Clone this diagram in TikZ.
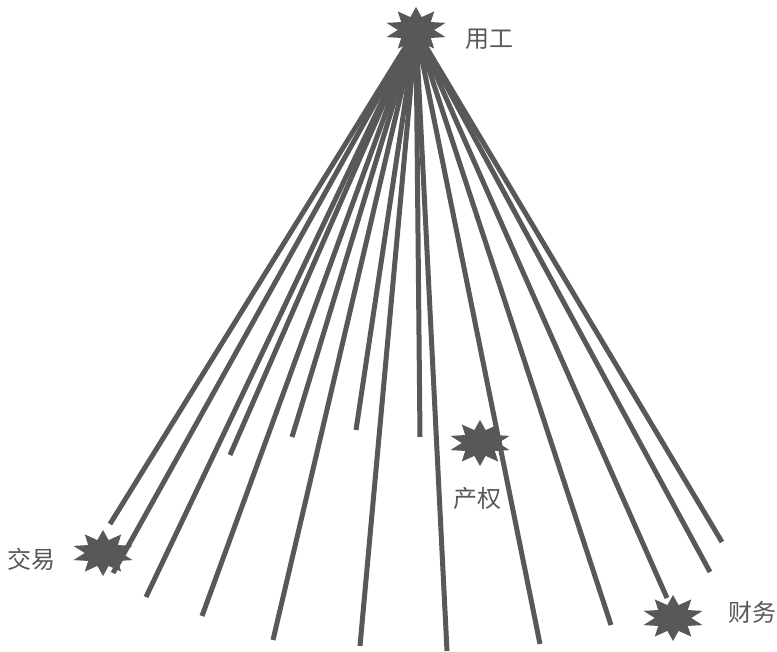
\documentclass[tikz,border=0pt]{standalone}
\usepackage{fontspec}
\newfontfamily\cjk{Noto Sans CJK SC}
\usetikzlibrary{shapes.geometric}
\definecolor{fangray}{RGB}{88,88,88}
\begin{document}
\begin{tikzpicture}[x=1pt,y=-1pt,
    burst/.style={star,star points=10,star point ratio=1.7,fill=fangray,
        draw=none,minimum size=46pt,inner sep=0pt,xscale=1.35},
    tag/.style={font=\cjk\fontsize{24}{24}\selectfont,text=fangray}]
    \useasboundingbox (0,0) rectangle (777,652);

    \node[burst] (yg) at (416,30) {};
    \node[burst] (cq) at (480,443) {};
    \node[burst] (jy) at (103,553) {};
    \node[burst] (cw) at (673,618) {};

    \node[tag] (ygl) at (489,39) {用工};
    \node[tag] (cql) at (477,498) {产权};
    \node[tag] (jyl) at (31,559) {交易};
    \node[tag] (cwl) at (752,612) {财务};

    \foreach \ex/\ey [count=\i] in {110/524,113/573,146/597,202/616,273/640,
        360/646,447/651,540/644,611/625,667/598,710/572,722/542,
        230/455,292/437,356/430,420/437} {
        \coordinate (end\i) at (\ex,\ey);
        \draw[fangray,line width=5pt] (yg.center) -- (end\i);
    }
\end{tikzpicture}
\end{document}
